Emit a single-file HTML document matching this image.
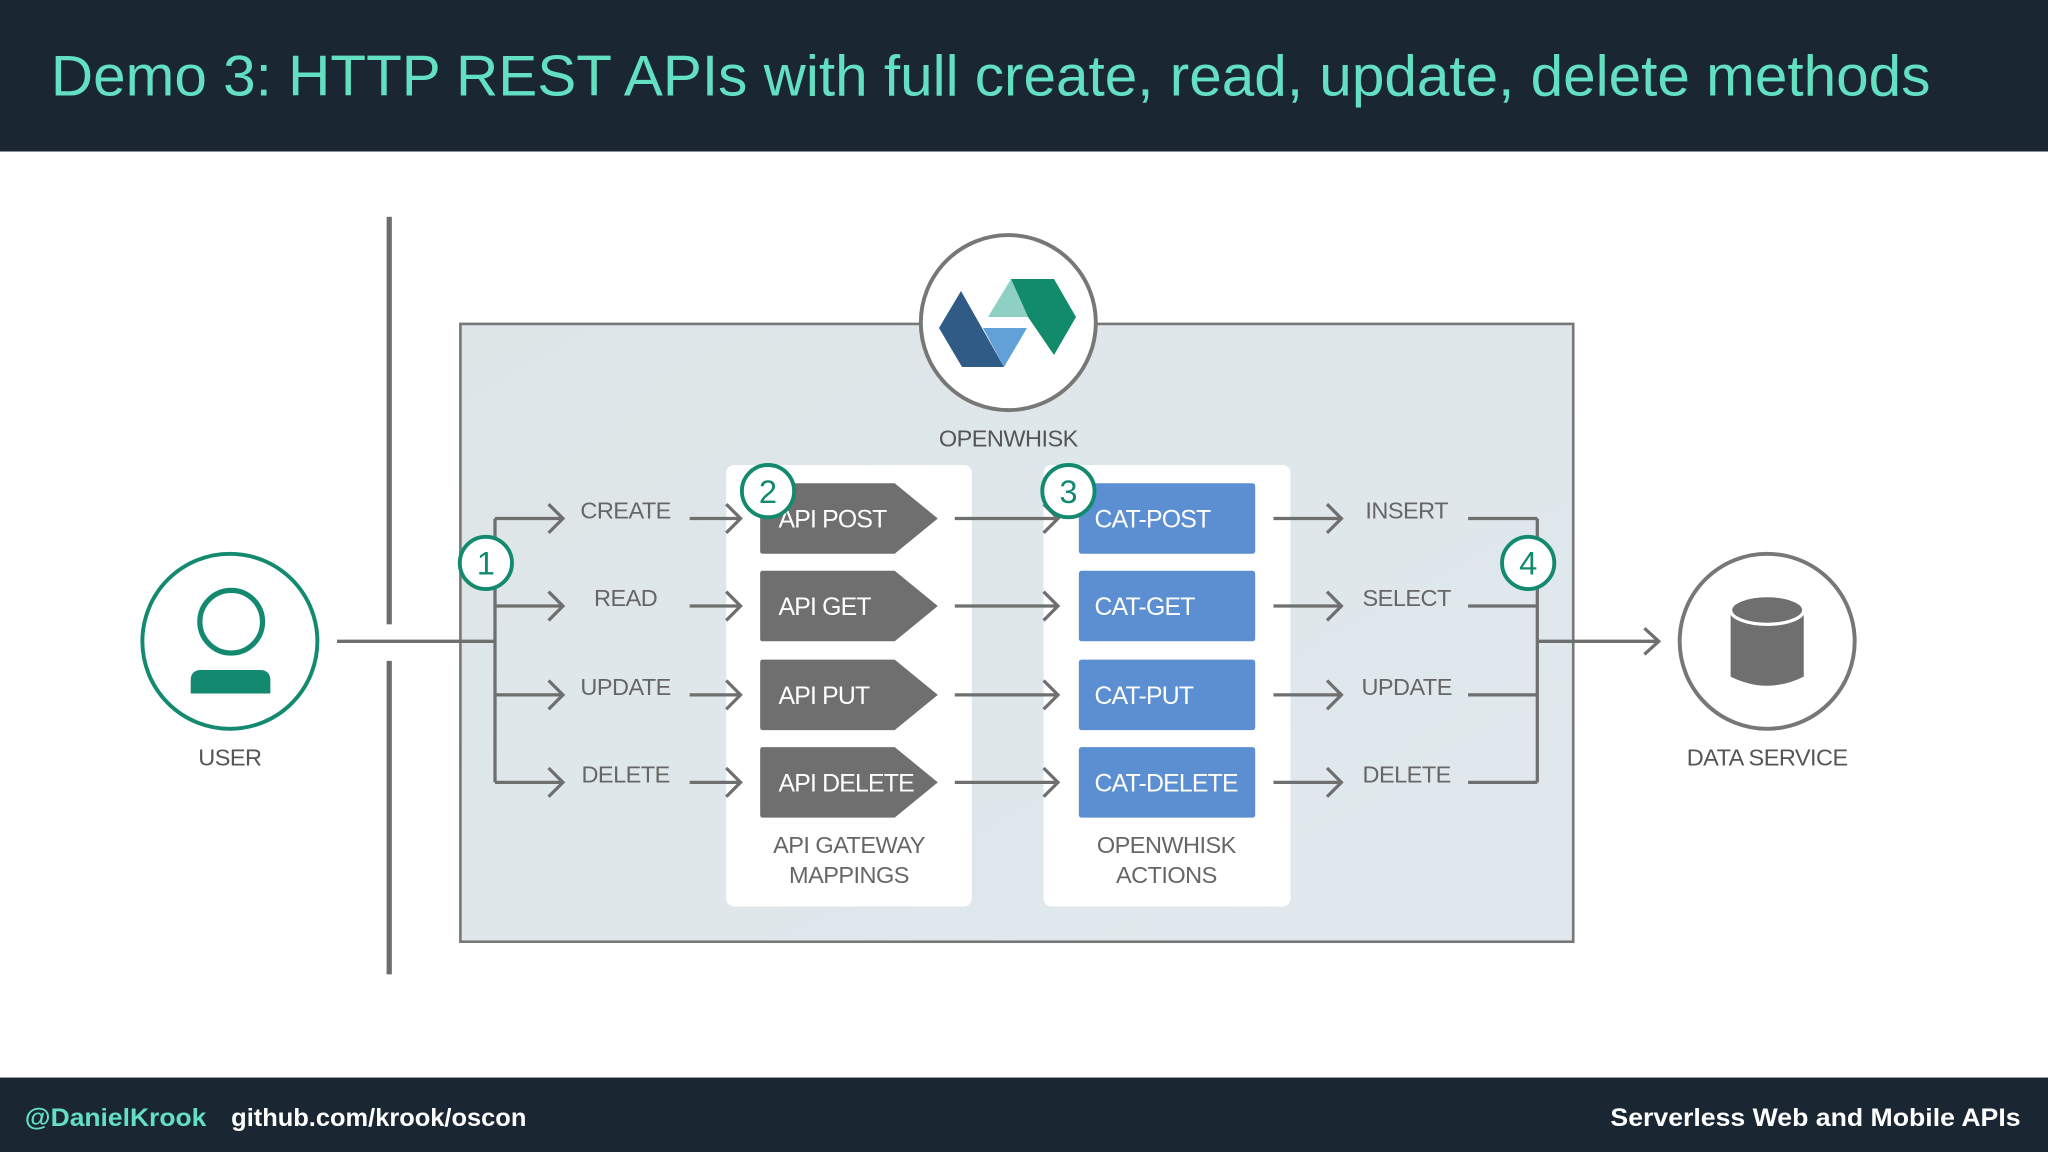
<!DOCTYPE html>
<html><head><meta charset="utf-8"><style>
html,body{margin:0;padding:0;background:#fff;}
svg{display:block;}
text{font-family:"Liberation Sans",Arial,sans-serif;}
</style></head><body>
<svg width="2048" height="1152" viewBox="0 0 1568 882" xmlns="http://www.w3.org/2000/svg">
<defs>
<linearGradient id="bg" x1="0" y1="0" x2="1" y2="1"><stop offset="0" stop-color="#dde6e7"/><stop offset="1" stop-color="#e0e8ee"/></linearGradient>
</defs>
<rect x="0" y="0" width="1568" height="882" fill="#fff"/>
<rect x="0" y="0" width="1568" height="116" fill="#1a2733"/>
<text x="39" y="73" font-size="44" fill="#63dfc1" textLength="1439" lengthAdjust="spacingAndGlyphs">Demo 3: HTTP REST APIs with full create, read, update, delete methods</text>
<rect x="0" y="825" width="1568" height="57" fill="#1a2733"/>
<text x="19" y="862" font-size="19" font-weight="bold" fill="#63dfc1" textLength="139" lengthAdjust="spacingAndGlyphs">@DanielKrook</text>
<text x="177" y="862" font-size="19" font-weight="bold" fill="#fff" textLength="226" lengthAdjust="spacingAndGlyphs">github.com/krook/oscon</text>
<text x="1233" y="862" font-size="19" font-weight="bold" fill="#fff" textLength="314" lengthAdjust="spacingAndGlyphs">Serverless Web and Mobile APIs</text>

<rect x="296" y="166" width="4" height="312" fill="#6d6d6d"/>
<rect x="296" y="506" width="4" height="240" fill="#6d6d6d"/>

<rect x="352.5" y="248" width="852" height="473" fill="url(#bg)" stroke="#777" stroke-width="2"/>
<rect x="556" y="356" width="188" height="338" rx="6" fill="#fff"/>
<rect x="799" y="356" width="189" height="338" rx="6" fill="#fff"/>

<circle cx="772" cy="247" r="67" fill="#fff" stroke="#777" stroke-width="3"/>
<g transform="scale(0.765625)">
<polygon points="961,291 1004,367 962,367 939,328" fill="#2f5b86"/>
<polygon points="983,328 1027,328 1004,367" fill="#62a0d8"/>
<polygon points="988,317 1011,279 1028,317" fill="#8ed1c4"/>
<polygon points="1011,279 1054,279 1076,317 1054,355 1028,317" fill="#128a6c"/>
</g>
<text x="772" y="342" font-size="18" fill="#555" text-anchor="middle" letter-spacing="-0.4">OPENWHISK</text>

<circle cx="176" cy="491" r="67" fill="#fff" stroke="#138a70" stroke-width="3"/>
<circle cx="177" cy="476" r="24" fill="none" stroke="#138a70" stroke-width="4"/>
<path d="M146 531 L146 521 Q146 513 154 513 L199 513 Q207 513 207 521 L207 531 Z" fill="#138a70"/>
<text x="176" y="586" font-size="18" fill="#555" text-anchor="middle" letter-spacing="-0.4">USER</text>

<circle cx="1353" cy="491" r="67" fill="#fff" stroke="#777" stroke-width="3"/>
<path d="M1325 468 L1325 518 Q1353 532 1381 518 L1381 468 Z" fill="#6f6f6f"/>
<ellipse cx="1353" cy="467" rx="28" ry="11" fill="#6f6f6f" stroke="#fff" stroke-width="2.5"/>
<text x="1353" y="586" font-size="18" fill="#555" text-anchor="middle" letter-spacing="-0.4">DATA SERVICE</text>

<g stroke="#6f6f6f" stroke-width="2.5" fill="none">
<path d="M258 491 H379 M379 397 V599"/>
<path d="M1177 397 V599 M1177 491 H1270 M1259 481 L1270 491 L1259 501"/>
</g>

<g stroke="#6f6f6f" stroke-width="2.5" fill="none">
<path d="M379 397H431M420 386L431 397L420 408 M528 397H567M556 386L567 397L556 408 M731 397H810M799 386L810 397L799 408 M975 397H1027M1016 386L1027 397L1016 408 M1124 397H1177"/>
<path d="M379 464H431M420 453L431 464L420 475 M528 464H567M556 453L567 464L556 475 M731 464H810M799 453L810 464L799 475 M975 464H1027M1016 453L1027 464L1016 475 M1124 464H1177"/>
<path d="M379 532H431M420 521L431 532L420 543 M528 532H567M556 521L567 532L556 543 M731 532H810M799 521L810 532L799 543 M975 532H1027M1016 521L1027 532L1016 543 M1124 532H1177"/>
<path d="M379 599H431M420 588L431 599L420 610 M528 599H567M556 588L567 599L556 610 M731 599H810M799 588L810 599L799 610 M975 599H1027M1016 588L1027 599L1016 610 M1124 599H1177"/>
</g>

<g font-size="18" fill="#666" text-anchor="middle" letter-spacing="-0.4">
<text x="479" y="397">CREATE</text>
<text x="479" y="464">READ</text>
<text x="479" y="532">UPDATE</text>
<text x="479" y="599">DELETE</text>
<text x="1077" y="397">INSERT</text>
<text x="1077" y="464">SELECT</text>
<text x="1077" y="532">UPDATE</text>
<text x="1077" y="599">DELETE</text>
<text x="650" y="653">API GATEWAY</text>
<text x="650" y="676">MAPPINGS</text>
<text x="893" y="653">OPENWHISK</text>
<text x="893" y="676">ACTIONS</text>
</g>

<g fill="#6f6f6f">
<path d="M582 372 Q582 370 584 370 H685 L718 397 L685 424 H584 Q582 424 582 422 Z"/>
<path d="M582 439 Q582 437 584 437 H685 L718 464 L685 491 H584 Q582 491 582 489 Z"/>
<path d="M582 507 Q582 505 584 505 H685 L718 532 L685 559 H584 Q582 559 582 557 Z"/>
<path d="M582 574 Q582 572 584 572 H685 L718 599 L685 626 H584 Q582 626 582 624 Z"/>
</g>
<g fill="#5b8fd1">
<rect x="826" y="370" width="135" height="54" rx="2"/>
<rect x="826" y="437" width="135" height="54" rx="2"/>
<rect x="826" y="505" width="135" height="54" rx="2"/>
<rect x="826" y="572" width="135" height="54" rx="2"/>
</g>
<g font-size="19" fill="#fff" letter-spacing="-0.6">
<text x="596" y="404">API POST</text>
<text x="596" y="471">API GET</text>
<text x="596" y="539">API PUT</text>
<text x="596" y="606">API DELETE</text>
<text x="838" y="404">CAT-POST</text>
<text x="838" y="471">CAT-GET</text>
<text x="838" y="539">CAT-PUT</text>
<text x="838" y="606">CAT-DELETE</text>
</g>

<g fill="#fff" stroke="#138a70" stroke-width="3">
<circle cx="372" cy="431" r="20"/>
<circle cx="588" cy="376" r="20"/>
<circle cx="818" cy="376" r="20"/>
<circle cx="1170" cy="431" r="20"/>
</g>
<g font-size="25" fill="#138a70" text-anchor="middle">
<text x="372" y="440">1</text>
<text x="588" y="385">2</text>
<text x="818" y="385">3</text>
<text x="1170" y="440">4</text>
</g>
</svg>
</body></html>
